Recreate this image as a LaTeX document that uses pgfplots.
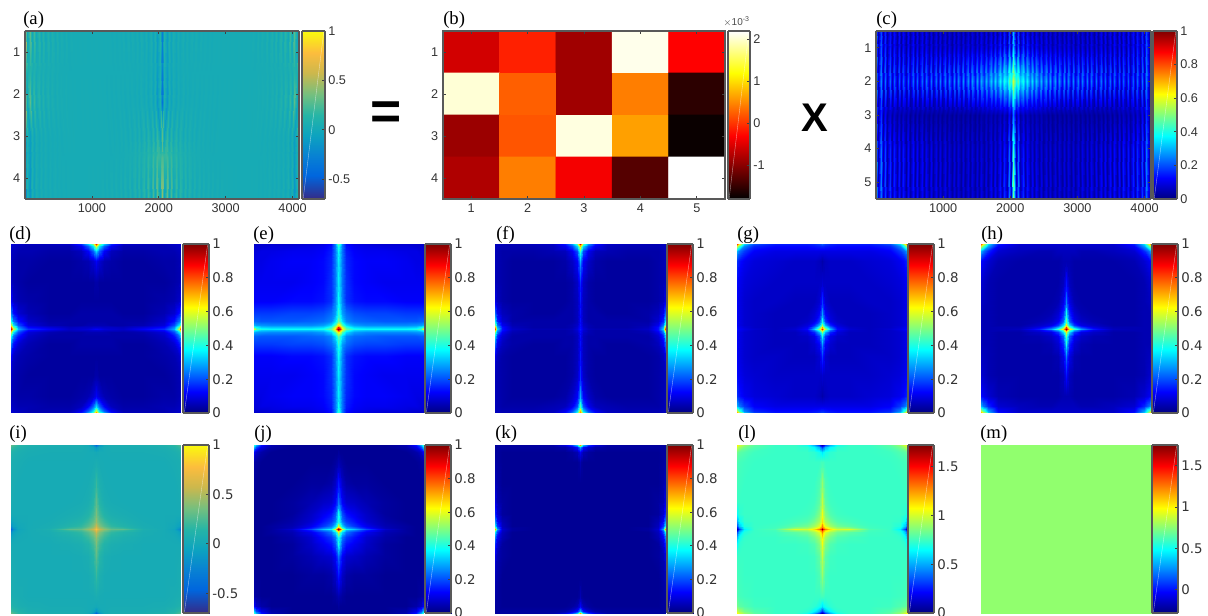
\documentclass[border=0pt]{standalone}
\usepackage{pgfplots}
\usepackage{pgfplotstable}
\usepackage{fontspec}
\pgfplotsset{compat=1.18}
\setmainfont{Liberation Sans}
\newfontfamily\djv{DejaVu Sans}
\newfontfamily\tmr{Liberation Serif}
\def\PX{0.75pt}
\def\fa{\fontsize{9.5}{10}\selectfont}
\def\fb{\djv\fontsize{10}{11}\selectfont}
\pgfplotsset{
 colormap={parula}{rgb(0pt)=(.2081,.1663,.5292) rgb(14pt)=(0,.40,.87) rgb(25pt)=(.03,.50,.83) rgb(38pt)=(.05,.64,.75) rgb(50pt)=(.15,.71,.65) rgb(62pt)=(.45,.75,.50) rgb(75pt)=(.80,.72,.30) rgb(87pt)=(.99,.74,.24) rgb(100pt)=(.98,.98,.05)},
 colormap={myhot}{rgb(0pt)=(0,0,0) rgb(3pt)=(1,0,0) rgb(6pt)=(1,1,0) rgb(8pt)=(1,1,1)},
 colormap={myjet}{rgb(0pt)=(0,0,.5) rgb(1pt)=(0,0,1) rgb(3pt)=(0,1,1) rgb(5pt)=(1,1,0) rgb(7pt)=(1,0,0) rgb(8pt)=(.5,0,0)},
 pxbox/.style n args={4}{at={({#1*\PX},{(615-#4)*\PX})},anchor=south west,scale only axis,width={(#2-#1)*\PX},height={(#4-#3)*\PX}},
 framed/.style={axis line style={draw=black!65,line width=.8pt},tick style={draw=black!75,line width=.5pt},major tick length=2.5pt,tick align=inside,
  tick label style={text=black!80,/pgf/number format/assume math mode=true,/pgf/number format/fixed,/pgf/number format/set thousands separator={}}},
}
\def\UU#1{(#1<.5?0:(#1<1.5?1.5:(#1<2.5?4:(#1<3.5?9:(#1<4.5?18:(#1<5.5?32:(#1<6.5?55:(#1<7.5?80:(#1<8.5?92:(#1<9.5?97.5:100))))))))))}
\def\RA#1{(#1<.5?.5:(#1<1.5?1.5:(#1<2.5?2.2:(#1<3.5?3:(#1<4.5?3.5:4.5)))))}
\def\RC#1{(#1<.5?.5:(#1<1.5?1:(#1<2.5?2:(#1<3.5?3:(#1<4.5?4:5.5)))))}
\newcommand\cbar[9]{\begin{axis}[pxbox={#1}{#2}{#3}{#4},framed,colormap name=#5,view={0}{90},xmin=0,xmax=1,ymin=#6,ymax=#7,xtick=\empty,ytick={#8},ytick pos=right,yticklabel pos=right,point meta min=#6,point meta max=#7,axis on top,tick label style={font=#9},yticklabel style={xshift=-1pt}]
\addplot3[surf,shader=interp,mesh/cols=2] coordinates {(0,#6,#6) (1,#6,#6) (0,#7,#7) (1,#7,#7)};
\addplot3[white,opacity=.55,line width=.3pt,no marks] coordinates {(0.05,#6,#7) (0.95,#7,#7)};
\end{axis}}
\newcommand\qpanel[8]{\begin{axis}[pxbox={#1}{#2}{#3}{#4},hide axis,colormap name=#5,view={0}{90},xmin=-100,xmax=100,ymin=-100,ymax=100,point meta min=#6,point meta max=#7]
\foreach \sx/\sy in {1/1,-1/1,1/-1,-1/-1}{
\addplot3[surf,shader=interp,mesh/cols=11] table[x index=0,y index=0,z index=0,x expr={\sx*\UU{mod(\coordindex,11)}},y expr={\sy*\UU{floor((\coordindex+.5)/11)}}] {#8};
}
\end{axis}}
\newcommand\lab[3]{\node[anchor=base west,inner sep=0pt,font=\tmr\fontsize{14}{15}\selectfont] at ({#1*\PX},{(615-#2)*\PX}) {#3};}
\newcommand\rr[1]{\pgfplotstableread[row sep=crcr,header=false]{#1}}
% quarter tables: rows from centre line to edge, columns from centre line to edge
\rr{12\\12\\11\\9\\8\\7\\12\\17\\30\\60\\92\\
8\\8\\8\\7\\7\\6\\9\\13\\26\\50\\78\\
5\\5\\5\\5\\4\\4\\5\\9\\20\\36\\56\\
4\\4\\4\\4\\4\\4\\4\\7\\14\\24\\38\\
4\\4\\4\\4\\4\\3\\3\\5\\8\\14\\24\\
3\\3\\3\\3\\3\\3\\3\\4\\5\\7\\12\\
4\\4\\3\\3\\3\\3\\3\\3\\4\\5\\7\\
12\\10\\8\\5\\4\\3\\3\\4\\4\\5\\6\\
34\\30\\22\\12\\6\\4\\4\\5\\5\\6\\7\\
60\\52\\36\\22\\11\\5\\5\\5\\6\\7\\8\\
85\\72\\50\\32\\16\\7\\6\\6\\7\\8\\9\\}\tabd
\rr{100\\88\\65\\48\\40\\38\\38\\38\\40\\45\\60\\
88\\74\\58\\42\\34\\32\\32\\32\\33\\38\\42\\
65\\58\\46\\34\\28\\26\\26\\26\\27\\28\\30\\
48\\42\\34\\26\\23\\22\\21\\21\\21\\22\\22\\
42\\36\\28\\23\\20\\19\\19\\18\\18\\18\\18\\
38\\32\\25\\17\\14\\13\\13\\12\\12\\12\\12\\
36\\31\\24\\17\\13\\12\\11\\11\\11\\11\\11\\
36\\31\\24\\16\\13\\12\\12\\11\\10\\10\\10\\
38\\31\\24\\15\\12\\11\\11\\10\\10\\9\\9\\
42\\34\\24\\14\\11\\10\\9\\9\\8\\8\\8\\
48\\38\\25\\13\\10\\9\\8\\8\\8\\7\\7\\}\tabe
\rr{15\\13\\9\\6\\5\\5\\5\\7\\14\\35\\82\\
14\\12\\8\\5\\4\\4\\4\\6\\14\\30\\68\\
14\\11\\7\\5\\4\\4\\4\\5\\11\\24\\48\\
14\\10\\6\\4\\4\\4\\4\\4\\8\\16\\34\\
14\\10\\6\\4\\4\\3\\3\\4\\6\\11\\22\\
15\\10\\6\\4\\3\\3\\3\\3\\4\\6\\10\\
17\\12\\7\\4\\3\\3\\3\\3\\4\\5\\6\\
30\\22\\12\\7\\4\\3\\3\\3\\4\\5\\6\\
45\\36\\20\\11\\6\\5\\4\\4\\4\\5\\6\\
70\\54\\34\\20\\11\\6\\5\\5\\5\\6\\6\\
92\\75\\46\\27\\14\\7\\6\\5\\5\\6\\6\\}\tabf
\rr{85\\72\\54\\32\\13\\8\\6\\8\\10\\12\\14\\
72\\58\\42\\24\\11\\7\\6\\7\\9\\11\\13\\
54\\42\\30\\16\\9\\6\\6\\7\\8\\10\\12\\
40\\30\\18\\10\\7\\6\\6\\7\\8\\10\\12\\
28\\20\\12\\8\\6\\6\\6\\7\\8\\10\\12\\
18\\13\\8\\6\\6\\6\\7\\7\\8\\10\\12\\
8\\7\\7\\7\\7\\7\\7\\8\\9\\11\\13\\
4\\5\\6\\7\\7\\7\\8\\9\\11\\14\\17\\
10\\10\\10\\10\\10\\10\\10\\12\\18\\24\\30\\
16\\16\\15\\14\\13\\13\\13\\16\\26\\45\\58\\
22\\20\\18\\16\\15\\15\\15\\20\\34\\62\\82\\}\tabg
\rr{98\\85\\65\\45\\28\\15\\6\\5\\5\\5\\6\\
85\\68\\48\\30\\18\\10\\5\\5\\5\\5\\6\\
65\\50\\35\\18\\10\\7\\4\\4\\5\\5\\6\\
48\\38\\22\\11\\7\\5\\4\\4\\5\\5\\6\\
40\\28\\16\\8\\5\\4\\4\\4\\5\\5\\6\\
25\\17\\10\\5\\4\\4\\4\\4\\5\\6\\7\\
14\\10\\6\\4\\4\\4\\4\\4\\5\\7\\8\\
5\\5\\5\\4\\4\\4\\4\\5\\8\\11\\13\\
6\\6\\6\\6\\5\\5\\6\\8\\16\\24\\30\\
7\\7\\7\\7\\7\\7\\7\\12\\28\\48\\58\\
9\\8\\8\\8\\8\\8\\8\\15\\34\\62\\78\\}\tabh
\rr{80\\70\\58\\45\\32\\30\\8\\3\\-3\\-20\\-45\\
70\\60\\50\\38\\25\\20\\6\\3\\-1\\-14\\-32\\
58\\50\\40\\28\\18\\12\\5\\3\\0\\-6\\-16\\
45\\38\\30\\20\\12\\8\\4\\3\\2\\-1\\-4\\
38\\30\\22\\12\\7\\5\\3\\3\\3\\3\\3\\
30\\24\\14\\6\\4\\3\\3\\3\\3\\4\\5\\
20\\14\\8\\4\\3\\3\\3\\3\\3\\5\\6\\
6\\5\\4\\3\\3\\3\\3\\3\\5\\6\\7\\
1\\2\\3\\3\\4\\4\\4\\5\\7\\10\\13\\
-16\\-10\\-2\\3\\5\\5\\5\\7\\12\\18\\22\\
-45\\-32\\-14\\2\\6\\6\\7\\10\\16\\25\\32\\}\tabi
\rr{100\\85\\60\\38\\32\\20\\8\\3\\2\\2\\2\\
85\\68\\46\\30\\25\\15\\6\\3\\2\\2\\2\\
60\\46\\34\\24\\18\\11\\5\\3\\2\\2\\2\\
40\\34\\24\\18\\14\\8\\4\\2\\2\\2\\2\\
40\\30\\20\\14\\11\\7\\3\\2\\2\\2\\2\\
24\\18\\12\\8\\7\\5\\3\\2\\2\\2\\2\\
15\\11\\7\\4\\3\\3\\2\\2\\2\\2\\3\\
5\\4\\3\\2\\2\\2\\2\\2\\2\\3\\4\\
3\\2\\2\\2\\2\\2\\2\\2\\4\\7\\12\\
2\\2\\2\\2\\2\\2\\2\\4\\10\\20\\32\\
2\\2\\2\\2\\2\\2\\2\\5\\14\\30\\42\\}\tabj
\rr{2\\2\\2\\2\\2\\2\\2\\3\\8\\30\\72\\
2\\2\\2\\2\\2\\2\\2\\3\\7\\24\\54\\
2\\2\\2\\2\\2\\2\\2\\2\\6\\18\\36\\
2\\2\\2\\2\\2\\2\\2\\2\\5\\12\\25\\
2\\2\\2\\2\\2\\2\\2\\2\\3\\8\\16\\
2\\2\\2\\2\\2\\2\\2\\2\\3\\5\\10\\
2\\2\\2\\2\\2\\2\\2\\2\\2\\4\\6\\
5\\3\\2\\2\\2\\2\\2\\2\\2\\3\\4\\
12\\9\\5\\3\\2\\2\\2\\2\\2\\3\\3\\
30\\24\\14\\8\\4\\3\\3\\3\\3\\3\\3\\
72\\54\\32\\18\\9\\4\\3\\3\\3\\3\\3\\}\tabk
\rr{172\\150\\130\\112\\100\\102\\78\\74\\62\\30\\5\\
150\\130\\116\\102\\92\\90\\76\\74\\66\\42\\15\\
130\\116\\102\\92\\84\\80\\75\\74\\70\\55\\35\\
112\\102\\92\\84\\78\\76\\74\\74\\73\\66\\52\\
106\\96\\86\\78\\75\\74\\74\\74\\74\\72\\66\\
98\\90\\80\\75\\74\\74\\74\\74\\74\\74\\74\\
90\\84\\77\\74\\74\\74\\74\\74\\74\\75\\76\\
76\\76\\74\\74\\74\\74\\74\\74\\75\\76\\78\\
60\\64\\68\\72\\74\\74\\74\\75\\78\\80\\84\\
30\\38\\52\\64\\72\\74\\74\\78\\84\\92\\98\\
5\\12\\32\\52\\68\\74\\74\\80\\90\\100\\108\\}\tabl
\rr{77\\77\\77\\77\\77\\77\\77\\77\\77\\77\\77\\
77\\77\\77\\77\\77\\77\\77\\77\\77\\77\\77\\
77\\77\\77\\77\\77\\77\\77\\77\\77\\77\\77\\
77\\77\\77\\77\\77\\77\\77\\77\\77\\77\\77\\
77\\77\\77\\77\\77\\77\\77\\77\\77\\77\\77\\
77\\77\\77\\77\\77\\77\\77\\77\\77\\77\\77\\
77\\77\\77\\77\\77\\77\\77\\77\\77\\77\\77\\
77\\77\\77\\77\\77\\77\\77\\77\\77\\77\\77\\
77\\77\\77\\77\\77\\77\\77\\77\\77\\77\\77\\
77\\77\\77\\77\\77\\77\\77\\77\\77\\77\\77\\
77\\77\\77\\77\\77\\77\\77\\77\\77\\77\\77\\}\tabm
% half tables of panel (a): centre (x=2048) to edge, 61 columns, rows y=.5,1.5,2.2,3,3.5,4.5
\rr{-28\\12\\ -8\\8\\ -3\\7\\ -1\\6\\ 0\\6\\ 0\\5\\ 1\\5\\ 1\\5\\ 1\\5\\ 2\\4\\
2\\4\\ 2\\4\\ 3\\4\\ 3\\4\\ 3\\4\\ 3\\4\\ 3\\3\\ 4\\3\\ 4\\3\\ 4\\3\\
5\\2\\ 6\\2\\ 6\\2\\ 8\\1\\ 9\\1\\ 11\\0\\ 13\\0\\ 16\\0\\ 22\\-1\\ 30\\-3\\ 60\\
-30\\8\\ -10\\6\\ -3\\5\\ -1\\4\\ 1\\4\\ 2\\4\\ 2\\3\\ 3\\3\\ 3\\3\\ 3\\3\\
3\\3\\ 3\\3\\ 3\\3\\ 3\\3\\ 3\\3\\ 3\\3\\ 3\\3\\ 3\\3\\ 3\\3\\ 3\\3\\
3\\3\\ 4\\3\\ 4\\3\\ 5\\3\\ 6\\3\\ 6\\3\\ 7\\3\\ 8\\3\\ 10\\4\\ 14\\5\\ 18\\
-38\\9\\ -14\\7\\ -5\\6\\ -2\\5\\ 0\\5\\ 0\\4\\ 1\\4\\ 1\\4\\ 1\\4\\ 2\\4\\
2\\4\\ 2\\4\\ 2\\4\\ 3\\4\\ 3\\4\\ 3\\4\\ 3\\4\\ 3\\4\\ 3\\3\\ 4\\3\\
4\\3\\ 5\\3\\ 5\\3\\ 6\\2\\ 7\\2\\ 9\\1\\ 11\\1\\ 14\\1\\ 20\\0\\ 30\\-2\\ 50\\
30\\-6\\ 18\\-2\\ 14\\-1\\ 12\\0\\ 10\\0\\ 8\\1\\ 7\\1\\ 6\\1\\ 5\\2\\ 5\\2\\
4\\2\\ 4\\2\\ 4\\3\\ 3\\3\\ 3\\3\\ 3\\3\\ 3\\3\\ 3\\3\\ 3\\3\\ 3\\4\\
3\\4\\ 3\\4\\ 2\\4\\ 2\\4\\ 2\\4\\ 1\\5\\ 1\\5\\ 0\\6\\ -3\\7\\ -8\\8\\ -15\\
25\\18\\ 22\\12\\ 20\\8\\ 16\\6\\ 12\\5\\ 10\\4\\ 8\\4\\ 6\\4\\ 5\\3\\ 4\\3\\
4\\3\\ 3\\3\\ 3\\3\\ 3\\3\\ 3\\3\\ 3\\3\\ 3\\3\\ 3\\3\\ 3\\3\\ 3\\3\\
3\\3\\ 3\\3\\ 3\\4\\ 2\\4\\ 2\\4\\ 1\\5\\ 1\\5\\ 0\\6\\ -3\\7\\ -10\\8\\ -18\\
45\\-8\\ 32\\-6\\ 25\\-4\\ 20\\-2\\ 16\\-1\\ 13\\0\\ 11\\0\\ 9\\1\\ 8\\1\\ 7\\2\\
6\\2\\ 6\\2\\ 5\\2\\ 5\\3\\ 4\\3\\ 4\\3\\ 4\\3\\ 3\\3\\ 3\\3\\ 3\\4\\
3\\4\\ 2\\4\\ 2\\4\\ 2\\5\\ 1\\5\\ 1\\5\\ 0\\6\\ -1\\7\\ -5\\10\\ -15\\10\\ -45\\}\taba
% half tables of panel (c): rows y=.5,1,2,3,4,5.5
\rr{30\\4\\ 18\\3\\ 14\\3\\ 12\\3\\ 11\\3\\ 10\\3\\ 10\\3\\ 10\\3\\ 9\\3\\ 9\\3\\
9\\3\\ 9\\3\\ 9\\3\\ 9\\3\\ 9\\3\\ 9\\3\\ 10\\3\\ 10\\3\\ 10\\3\\ 11\\3\\
11\\3\\ 11\\3\\ 12\\3\\ 12\\3\\ 12\\3\\ 13\\3\\ 13\\4\\ 14\\4\\ 16\\4\\ 20\\5\\ 28\\
32\\6\\ 22\\5\\ 18\\5\\ 16\\5\\ 14\\4\\ 13\\4\\ 12\\4\\ 12\\4\\ 11\\4\\ 11\\4\\
11\\4\\ 11\\4\\ 11\\4\\ 11\\3\\ 11\\3\\ 11\\3\\ 11\\3\\ 11\\3\\ 11\\3\\ 12\\3\\
12\\3\\ 12\\3\\ 13\\3\\ 13\\3\\ 13\\3\\ 14\\4\\ 14\\4\\ 15\\4\\ 17\\5\\ 21\\5\\ 28\\
58\\40\\ 46\\32\\ 40\\28\\ 38\\24\\ 35\\22\\ 33\\20\\ 31\\18\\ 30\\16\\ 29\\14\\ 28\\13\\
27\\12\\ 27\\11\\ 26\\10\\ 26\\10\\ 25\\9\\ 25\\9\\ 25\\8\\ 24\\8\\ 24\\8\\ 24\\8\\
23\\7\\ 23\\7\\ 23\\7\\ 22\\7\\ 22\\7\\ 22\\6\\ 22\\6\\ 23\\6\\ 24\\6\\ 26\\7\\ 30\\
24\\4\\ 12\\3\\ 8\\3\\ 7\\3\\ 6\\3\\ 6\\3\\ 6\\3\\ 5\\2\\ 5\\2\\ 5\\2\\
5\\2\\ 5\\2\\ 5\\2\\ 5\\2\\ 5\\2\\ 5\\2\\ 5\\2\\ 5\\2\\ 5\\2\\ 5\\2\\
6\\2\\ 6\\2\\ 6\\2\\ 7\\3\\ 7\\3\\ 7\\3\\ 8\\3\\ 9\\3\\ 12\\3\\ 17\\4\\ 24\\
42\\5\\ 22\\5\\ 14\\4\\ 12\\4\\ 10\\3\\ 10\\3\\ 9\\3\\ 9\\3\\ 9\\3\\ 9\\3\\
9\\3\\ 9\\3\\ 9\\3\\ 9\\3\\ 9\\3\\ 10\\3\\ 10\\3\\ 10\\3\\ 11\\3\\ 11\\3\\
12\\3\\ 12\\3\\ 13\\3\\ 13\\3\\ 14\\4\\ 14\\4\\ 15\\4\\ 16\\4\\ 19\\5\\ 24\\5\\ 32\\
52\\6\\ 26\\5\\ 18\\4\\ 15\\4\\ 13\\3\\ 12\\3\\ 11\\3\\ 11\\3\\ 10\\3\\ 10\\3\\
10\\3\\ 10\\3\\ 10\\3\\ 10\\3\\ 11\\3\\ 11\\3\\ 11\\3\\ 12\\3\\ 12\\3\\ 13\\3\\
13\\3\\ 14\\3\\ 14\\3\\ 14\\3\\ 15\\4\\ 15\\4\\ 16\\4\\ 18\\4\\ 20\\5\\ 25\\6\\ 36\\}\tabc
\pgfplotstableread{
x y v
1 1 -0.565
2 1 -0.11
3 1 -0.86
4 1 2.12
5 1 -0.3
1 2 2.04
2 2 0.26
3 2 -0.86
4 2 0.44
5 2 -1.54
1 3 -0.89
2 3 0.2
3 3 2.08
4 3 0.64
5 3 -1.74
1 4 -0.77
2 4 0.44
3 4 -0.36
4 4 -1.3
5 4 2.2
}\tabb
\begin{document}
\begin{tikzpicture}
\path[use as bounding box] (0,0) rectangle (906pt,461.25pt);
% panel (a)
\begin{axis}[pxbox={25}{299}{31}{199},framed,colormap name=parula,view={0}{90},xmin=1,xmax=4096,ymin=.5,ymax=4.5,y dir=reverse,xtick={1000,2000,3000,4000},ytick={1,2,3,4},point meta min=-70,point meta max=100,tick label style={font=\fa},axis on top]
\foreach \sx in {1,-1}{
\addplot3[surf,shader=interp,mesh/cols=61] table[x index=0,y index=0,z index=0,x expr={2048+\sx*34.13*mod(\coordindex,61)},y expr={\RA{floor((\coordindex+.5)/61)}}] {\taba};
}
\end{axis}
\cbar{302}{325}{31}{199}{parula}{-.7}{1}{-.5,0,.5,1}{\fa}
% panel (b)
\begin{axis}[pxbox={443}{725}{31}{199},framed,colormap name=myhot,xmin=.5,xmax=5.5,ymin=.5,ymax=4.5,y dir=reverse,xtick={1,2,3,4,5},ytick={1,2,3,4},point meta min=-1.8,point meta max=2.2,tick label style={font=\fa},axis on top]
\addplot[matrix plot*,mesh/cols=5,point meta=explicit] table[x=x,y=y,meta=v] {\tabb};
\end{axis}
\cbar{728}{750}{31}{199}{myhot}{-1.8}{2.2}{-1,0,1,2}{\fa}
\node[anchor=south east,inner sep=0pt,text=black!70,font=\fontsize{7.5}{8}\selectfont] at ({750*\PX},{(615-27)*\PX}) {$\times$10\textsuperscript{-3}};
% panel (c)
\begin{axis}[pxbox={876}{1151}{31}{199},framed,colormap name=myjet,view={0}{90},xmin=1,xmax=4096,ymin=.5,ymax=5.5,y dir=reverse,xtick={1000,2000,3000,4000},ytick={1,2,3,4,5},point meta min=0,point meta max=100,tick label style={font=\fa},axis on top]
\foreach \sx in {1,-1}{
\addplot3[surf,shader=interp,mesh/cols=61] table[x index=0,y index=0,z index=0,x expr={2048+\sx*34.13*mod(\coordindex,61)},y expr={\RC{floor((\coordindex+.5)/61)}}] {\tabc};
}
\end{axis}
\cbar{1153}{1177}{31}{199}{myjet}{0}{1}{0,.2,.4,.6,.8,1}{\fa}
% rows 2 and 3
\qpanel{11}{181}{244}{413}{myjet}{0}{100}{\tabd}
\qpanel{254}{423}{244}{413}{myjet}{0}{100}{\tabe}
\qpanel{495}{665}{244}{413}{myjet}{0}{100}{\tabf}
\qpanel{737}{907}{244}{413}{myjet}{0}{100}{\tabg}
\qpanel{981}{1151}{244}{413}{myjet}{0}{100}{\tabh}
\cbar{183}{209}{244}{413}{myjet}{0}{1}{0,.2,.4,.6,.8,1}{\fb}
\cbar{425}{451}{244}{413}{myjet}{0}{1}{0,.2,.4,.6,.8,1}{\fb}
\cbar{667}{693}{244}{413}{myjet}{0}{1}{0,.2,.4,.6,.8,1}{\fb}
\cbar{908}{934}{244}{413}{myjet}{0}{1}{0,.2,.4,.6,.8,1}{\fb}
\cbar{1152}{1178}{244}{413}{myjet}{0}{1}{0,.2,.4,.6,.8,1}{\fb}
\qpanel{11}{181}{445}{613}{parula}{-70}{100}{\tabi}
\qpanel{254}{423}{445}{613}{myjet}{0}{100}{\tabj}
\qpanel{495}{665}{445}{613}{myjet}{0}{100}{\tabk}
\qpanel{737}{907}{445}{613}{myjet}{0}{172}{\tabl}
\qpanel{981}{1151}{445}{613}{myjet}{-28}{175}{\tabm}
\cbar{183}{209}{445}{613}{parula}{-.7}{1}{-.5,0,.5,1}{\fb}
\cbar{425}{451}{445}{613}{myjet}{0}{1}{0,.2,.4,.6,.8,1}{\fb}
\cbar{667}{693}{445}{613}{myjet}{0}{1}{0,.2,.4,.6,.8,1}{\fb}
\cbar{908}{934}{445}{613}{myjet}{0}{1.72}{0,.5,1,1.5}{\fb}
\cbar{1152}{1178}{445}{613}{myjet}{-.28}{1.75}{0,.5,1,1.5}{\fb}
\lab{23}{25}{(a)}\lab{443}{25}{(b)}\lab{876}{25}{(c)}
\lab{9}{240}{(d)}\lab{253}{240}{(e)}\lab{496}{240}{(f)}\lab{737}{240}{(g)}\lab{981}{240}{(h)}
\lab{9}{439}{(i)}\lab{254}{439}{(j)}\lab{495}{439}{(k)}\lab{738}{439}{(l)}\lab{980}{439}{(m)}
\node[inner sep=0pt,font=\bfseries\fontsize{40}{40}\selectfont] at ({386*\PX},{(615-116)*\PX}) {=};
\node[inner sep=0pt,font=\bfseries\fontsize{30}{30}\selectfont] at ({815*\PX},{(615-118)*\PX}) {X};
\end{tikzpicture}
\end{document}
